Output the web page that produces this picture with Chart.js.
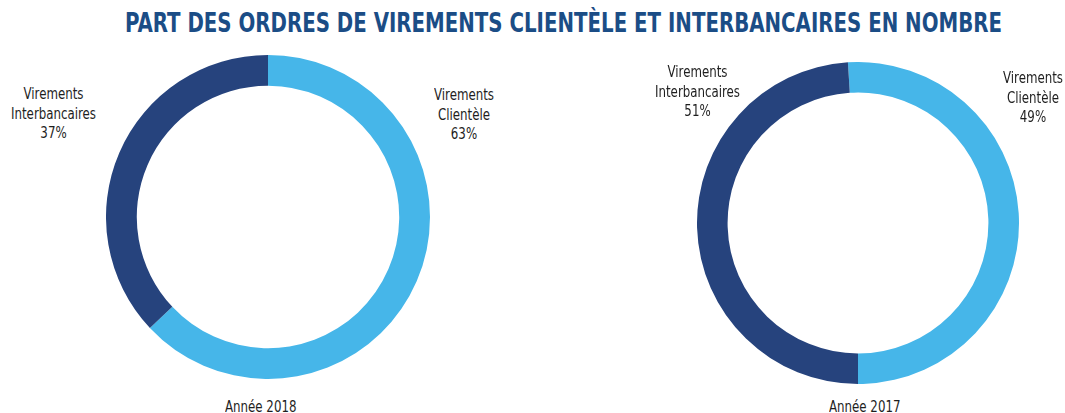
<!DOCTYPE html>
<html lang="fr">
<head>
  <meta charset="UTF-8">
  <title>Part des ordres de virements</title>
  <script src="https://cdn.jsdelivr.net/npm/chart.js"></script>
  <style>
    * { box-sizing: border-box; }
    body {
      margin: 0;
      background: #fff;
      font-family: 'Liberation Sans Narrow', 'DejaVu Sans Condensed', 'Roboto', sans-serif;
    }
    #wrap {
      position: relative;
      width: 1065px;
      height: 413px;
      overflow: hidden;
    }
    #title {
      position: absolute;
      left: 563px;
      top: 8px;
      white-space: nowrap;
      font-size: 26px;
      line-height: 30px;
      font-weight: bold;
      color: #1b4d86;
      transform-origin: 0 0;
    }
    .lbl {
      position: absolute;
      white-space: nowrap;
      text-align: center;
      font-size: 16px;
      line-height: 19.5px;
      color: #1e1e1e;
      transform-origin: 0 0;
    }
    .pie { position: absolute; }
  </style>
</head>
<body>
<div id="wrap">
  <div id="title">PART DES ORDRES DE VIREMENTS CLIENTÈLE ET INTERBANCAIRES EN NOMBRE</div>
  <div class="pie" style="left:106px; top:55px; width:324px; height:324px;"><canvas id="c2018"></canvas></div>
  <div class="pie" style="left:697px; top:62px; width:322px; height:322px;"><canvas id="c2017"></canvas></div>
</div>

<script>
const categories = ['Virements Clientèle', 'Virements Interbancaires'];
const years = ['Année 2018', 'Année 2017'];
// printed percentages
const values2018 = [63, 37];
const values2017 = [49, 51];
// arc shares as drawn in the original (2017 ring is drawn with the shares swapped)
const arcs2018 = [63, 37];
const arcs2017 = [51, 49];
const colors = ['#46b6e9', '#26437d'];

// label placement: [center x, top y]
const labelPos2018 = [[464, 85], [53, 84]];
const labelPos2017 = [[1033, 68], [697, 62]];
const yearPos = [[261, 397], [865, 397]];

const wrap = document.getElementById('wrap');

function addLabel(text, cx, top) {
  const d = document.createElement('div');
  d.className = 'lbl';
  d.innerHTML = text;
  d.style.top = top + 'px';
  d.dataset.cx = cx;
  wrap.appendChild(d);
  return d;
}

const labels = [];
[[values2018, labelPos2018], [values2017, labelPos2017]].forEach(([vals, pos]) => {
  categories.forEach((cat, i) => {
    const parts = cat.split(' ');
    labels.push(addLabel(parts.join('<br>') + '<br>' + vals[i] + '%', pos[i][0], pos[i][1]));
  });
});
years.forEach((y, i) => labels.push(addLabel(y, yearPos[i][0], yearPos[i][1])));

// fit the text widths to the condensed look of the original
const probe = document.createElement('span');
probe.className = 'lbl';
probe.textContent = 'Interbancaires';
wrap.appendChild(probe);
const sx = 85 / probe.getBoundingClientRect().width;
probe.remove();
labels.forEach(d => {
  const w = d.getBoundingClientRect().width;
  d.style.left = (d.dataset.cx - w * sx / 2) + 'px';
  d.style.transform = `scaleX(${sx})`;
});

const title = document.getElementById('title');
const tw = title.getBoundingClientRect().width;
const ts = 877 / tw;
title.style.left = (563.5 - 877 / 2) + 'px';
title.style.transform = `scaleX(${ts})`;

function makeDonut(id, values, rotation) {
  new Chart(document.getElementById(id), {
    type: 'doughnut',
    data: {
      labels: categories,
      datasets: [{
        data: values,
        backgroundColor: colors,
        borderWidth: 0
      }]
    },
    options: {
      responsive: true,
      maintainAspectRatio: false,
      animation: false,
      cutout: '81%',
      rotation: rotation,
      layout: { padding: 0 },
      plugins: {
        legend: { display: false },
        tooltip: { enabled: false }
      }
    }
  });
}

makeDonut('c2018', arcs2018, 0);
makeDonut('c2017', arcs2017, -3.6);
</script>
</body>
</html>
